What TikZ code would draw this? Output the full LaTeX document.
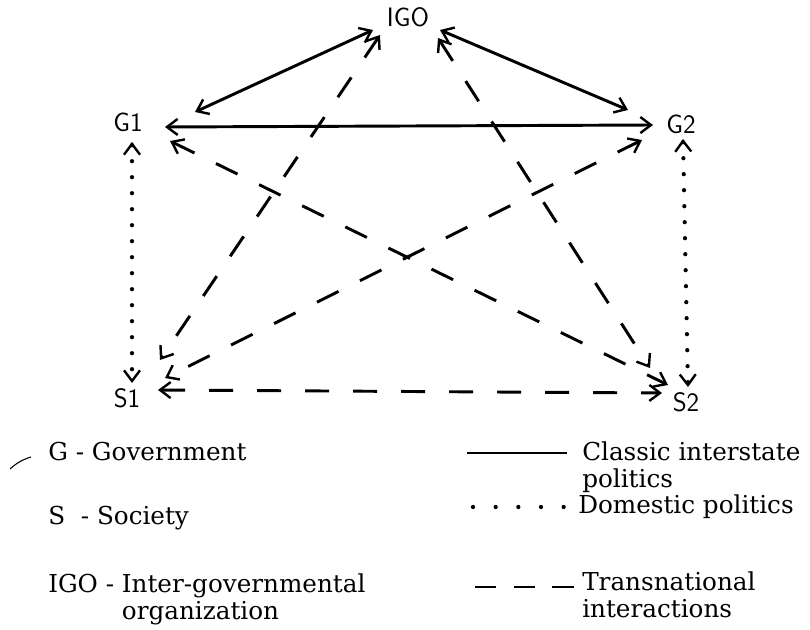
\documentclass[tikz,border=0pt]{standalone}
\usepackage{fontspec}
\setmainfont{DejaVu Serif}
\usetikzlibrary{arrows.meta, positioning, calc}
\tikzset{
  >={Straight Barb[length=8pt, width=12pt, line width=1.8pt]},
  actorlabel/.style={
    font=\sffamily\fontsize{20}{24}\selectfont, inner sep=1pt
  },
  keytext/.style={
    anchor=base west, inner sep=0pt, font=\fontsize{18.5}{20.5}\selectfont
  },
  classicline/.style={line width=2.2pt},
  domesticline/.style={
    line width=3.2pt, line cap=round, dash pattern=on 0pt off 12pt
  },
  transline/.style={line width=2.2pt, dash pattern=on 18pt off 18pt},
}

\begin{document}
\begin{tikzpicture}[x=0.75pt, y=-0.75pt]
  \useasboundingbox (0,0) rectangle (810,630);

  % ── Actors ──
  \node[actorlabel] (igo) at (408,17) {IGO};
  \node[actorlabel] (g1) at (128,122) {G1};
  \node[actorlabel] (g2) at (681,124) {G2};
  \node[actorlabel] (s1) at (127,398) {S1};
  \node[actorlabel] (s2) at (686,402) {S2};

  % ── Classic interstate politics ──
  \draw[classicline, <->] ([shift={(-35,13)}]igo.center) -- ([shift={(67,-10)}]g1.center);
  \draw[classicline, <->] ([shift={(32,13)}]igo.center) -- ([shift={(-53,-14)}]g2.center);
  \draw[classicline, <->] ([shift={(37,5)}]g1.center) -- ([shift={(-28,1)}]g2.center);

  % ── Domestic politics ──
  \draw[domesticline, <->] ([shift={(4,20)}]g1.center) -- ([shift={(5,-15)}]s1.center);
  \draw[domesticline, <->] ([shift={(2,15)}]g2.center) -- ([shift={(2,-15)}]s2.center);

  % ── Transnational interactions ──
  \draw[transline, <->] ([shift={(-28,18)}]igo.center) -- ([shift={(33,-38)}]s1.center);
  \draw[transline, <->] ([shift={(30,21)}]igo.center) -- ([shift={(-36,-34)}]s2.center);
  \draw[transline, <->] ([shift={(42,19)}]g1.center) -- ([shift={(-18,-17)}]s2.center);
  \draw[transline, <->] ([shift={(-39,16)}]g2.center) -- ([shift={(38,-20)}]s1.center);
  \draw[transline, <->] ([shift={(31,-8)}]s1.center) -- ([shift={(-24,-9)}]s2.center);

  % ── Key ──
  \draw[line width=0.8pt] (10,469) to[bend left=12] (31,457);
  \node[keytext] (keyg) at (48,460) {G - Government};
  \node[keytext] (keys) at (48,524) {S~~- Society};
  \node[keytext] (keyigo) at (48,592)
    {IGO - \begin{tabular}[t]{@{}l@{}}Inter-governmental\\organization\end{tabular}};

  \draw[classicline] (467,453) -- (567,453);
  \node[keytext] (keyclassic) at (582,460)
    {\begin{tabular}[t]{@{}l@{}}Classic interstate\\politics\end{tabular}};
  \draw[domesticline, dash pattern=on 0pt off 17pt] (473,507) -- (577,507);
  \node[keytext] (keydomestic) at (578,513) {Domestic politics};
  \draw[transline, dash pattern=on 16pt off 13pt] (475,587) -- (577,587);
  \node[keytext] (keytrans) at (582,590)
    {\begin{tabular}[t]{@{}l@{}}Transnational\\interactions\end{tabular}};
\end{tikzpicture}
\end{document}
